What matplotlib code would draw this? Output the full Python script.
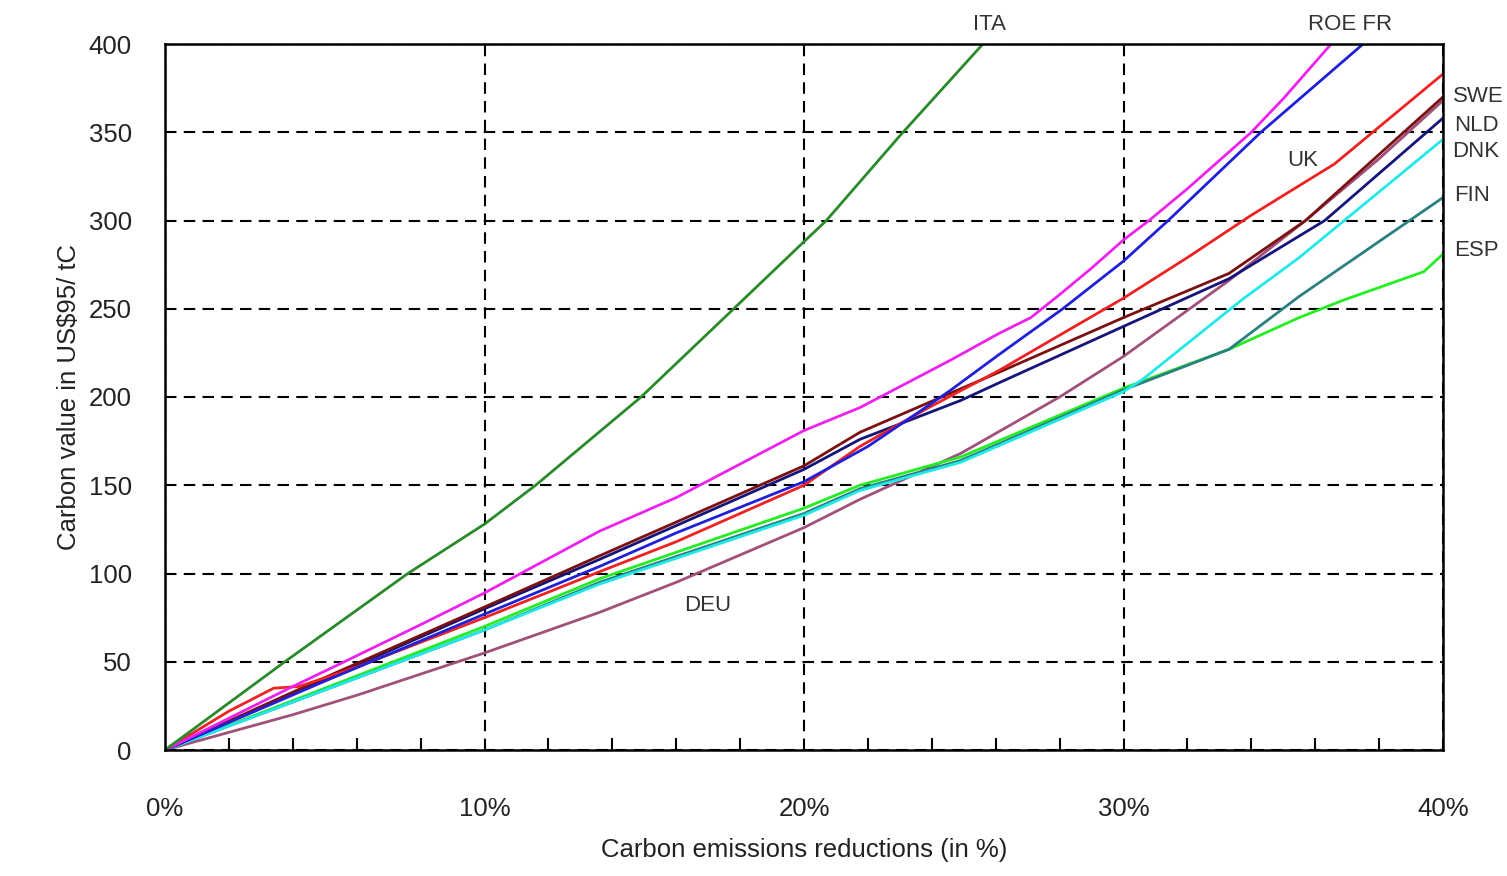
import matplotlib
matplotlib.use("Agg")
import matplotlib.pyplot as plt
from matplotlib.ticker import MultipleLocator, FuncFormatter

plt.rcParams['font.family'] = ['Liberation Sans', 'DejaVu Sans']

# ---- data (x in % reduction, y in US$95/tC) ----
ita_x = [0, 3.75, 7.6, 10, 11.6, 14.9, 17.8, 20, 20.7, 23, 24.2, 25.6]
ita_y = [0, 50, 100, 128, 150, 200, 250, 288, 300, 348, 372, 400]

roe_x = [0, 2, 4, 5.5, 8, 10, 13.6, 16, 20, 21.75, 24.6, 26.1, 27.1, 28, 29, 30, 30.8, 32, 34, 35, 36.5]
roe_y = [0, 18, 36, 49, 71, 89, 124, 143, 181, 194, 221, 236, 245, 258, 273, 289, 300, 318, 350, 369, 400]

fr_x = [0, 5, 10, 13.6, 16, 20, 22, 23.8, 24.6, 26.1, 28.1, 30, 31.4, 34.3, 37.5]
fr_y = [0, 39, 77, 104, 123, 152, 172, 194, 204, 224, 250, 277, 300, 350, 400]

uk_x = [0, 1, 2, 3.4, 4.2, 6, 8, 10, 13.6, 16, 20, 21.75, 23.8, 26.1, 28, 30, 32, 34, 36.6, 38, 40]
uk_y = [0, 11, 22, 35, 36, 47, 61, 75, 101, 118, 150, 172, 193, 215, 235, 256, 279, 303, 332, 353, 383]

swe_x = [0, 5, 10, 13.6, 20, 21.75, 26.1, 30, 33.3, 35.7, 40]
swe_y = [0, 41, 81, 110, 161, 180, 214, 245, 270, 300, 370]

nld_x = [0, 5, 10, 13.6, 20, 21.75, 24.9, 26.1, 30, 33.3, 36.3, 40]
nld_y = [0, 40, 80, 108, 159, 176, 198, 208, 240, 267, 300, 358]

deu_x = [0, 2, 4, 6, 8, 10, 13.6, 16, 20, 21.75, 24.9, 28, 30, 33.3, 35.7, 38, 40]
deu_y = [0, 10, 20, 31, 43, 55, 78, 95, 126, 142, 168, 200, 223, 266, 300, 335, 368]

dnk_x = [0, 5, 10, 13.6, 20, 21.75, 24.9, 30, 30.6, 33.7, 35.5, 40]
dnk_y = [0, 34, 68, 94, 133, 147, 163, 203, 210, 255, 279, 346]

fin_x = [0, 5, 10, 13.6, 20, 21.75, 24.9, 30, 33.3, 35.5, 40]
fin_y = [0, 34, 68, 95, 134, 148, 164, 204, 227, 257, 313]

esp_x = [0, 5, 10, 13.6, 20, 21.75, 24.9, 30, 33.3, 35.5, 36.9, 39.4, 40]
esp_y = [0, 35, 70, 97, 137, 150, 166, 205, 227, 245, 255, 271, 281]

series = [
    (deu_x, deu_y, '#a0507a'),
    (esp_x, esp_y, '#22ee22'),
    (fin_x, fin_y, '#2a8080'),
    (dnk_x, dnk_y, '#22e8e8'),
    (nld_x, nld_y, '#14147a'),
    (swe_x, swe_y, '#7a1010'),
    (uk_x, uk_y, '#ee2222'),
    (fr_x, fr_y, '#2020d8'),
    (roe_x, roe_y, '#ee22ee'),
    (ita_x, ita_y, '#2a8a2a'),
]

labels = [
    ("ITA", 25.8, 411, 'center'),
    ("ROE FR", 37.1, 411, 'center'),
    ("UK", 35.6, 334, 'center'),
    ("DEU", 17.0, 82, 'center'),
    ("SWE", 40.3, 370, 'left'),
    ("NLD", 40.35, 354, 'left'),
    ("DNK", 40.3, 339, 'left'),
    ("FIN", 40.35, 314, 'left'),
    ("ESP", 40.35, 283, 'left'),
]

x_ticks = [0, 10, 20, 30, 40]
y_ticks = [0, 50, 100, 150, 200, 250, 300, 350, 400]

fig = plt.figure(figsize=(15.07, 8.76), dpi=100)
ax = fig.add_axes([165 / 1507, 1 - 750 / 876, (1443 - 165) / 1507, (750 - 44) / 876])

for xs, ys, c in series:
    ax.plot(xs, ys, color=c, lw=2.0, solid_joinstyle='round', clip_on=True)

ax.set_xlim(0, 40)
ax.set_ylim(0, 400)
ax.set_xticks(x_ticks)
ax.set_yticks(y_ticks)
ax.xaxis.set_minor_locator(MultipleLocator(2))
ax.xaxis.set_major_formatter(FuncFormatter(lambda v, p: f"{int(round(v))}%"))

ax.grid(True, which='major', color='black', lw=1.5, linestyle=(0, (5.5, 3.5)))
ax.set_axisbelow(True)

ax.tick_params(axis='x', which='major', direction='in', length=0, pad=34, labelsize=18.5, labelcolor='#222222')
ax.tick_params(axis='x', which='minor', direction='in', length=9, width=1.5, color='black')
ax.tick_params(axis='y', which='major', direction='in', length=0, pad=24, labelsize=18.5, labelcolor='#222222')

for s in ax.spines.values():
    s.set_linewidth(1.8)
    s.set_color('black')

ax.set_xlabel("Carbon emissions reductions (in %)", fontsize=18.5, color='#222222')
ax.xaxis.set_label_coords(0.5, -0.125)
ax.set_ylabel("Carbon value in US\\$95/ tC", fontsize=18.5, color='#222222')
ax.yaxis.set_label_coords(-0.0755, 0.5)
ax.yaxis.label.set_va('center')

for txt, x, y, ha in labels:
    ax.text(x, y, txt, ha=ha, va='center', fontsize=16, color='#333333', clip_on=False)

fig.savefig("out.png", dpi=100, facecolor='white')
